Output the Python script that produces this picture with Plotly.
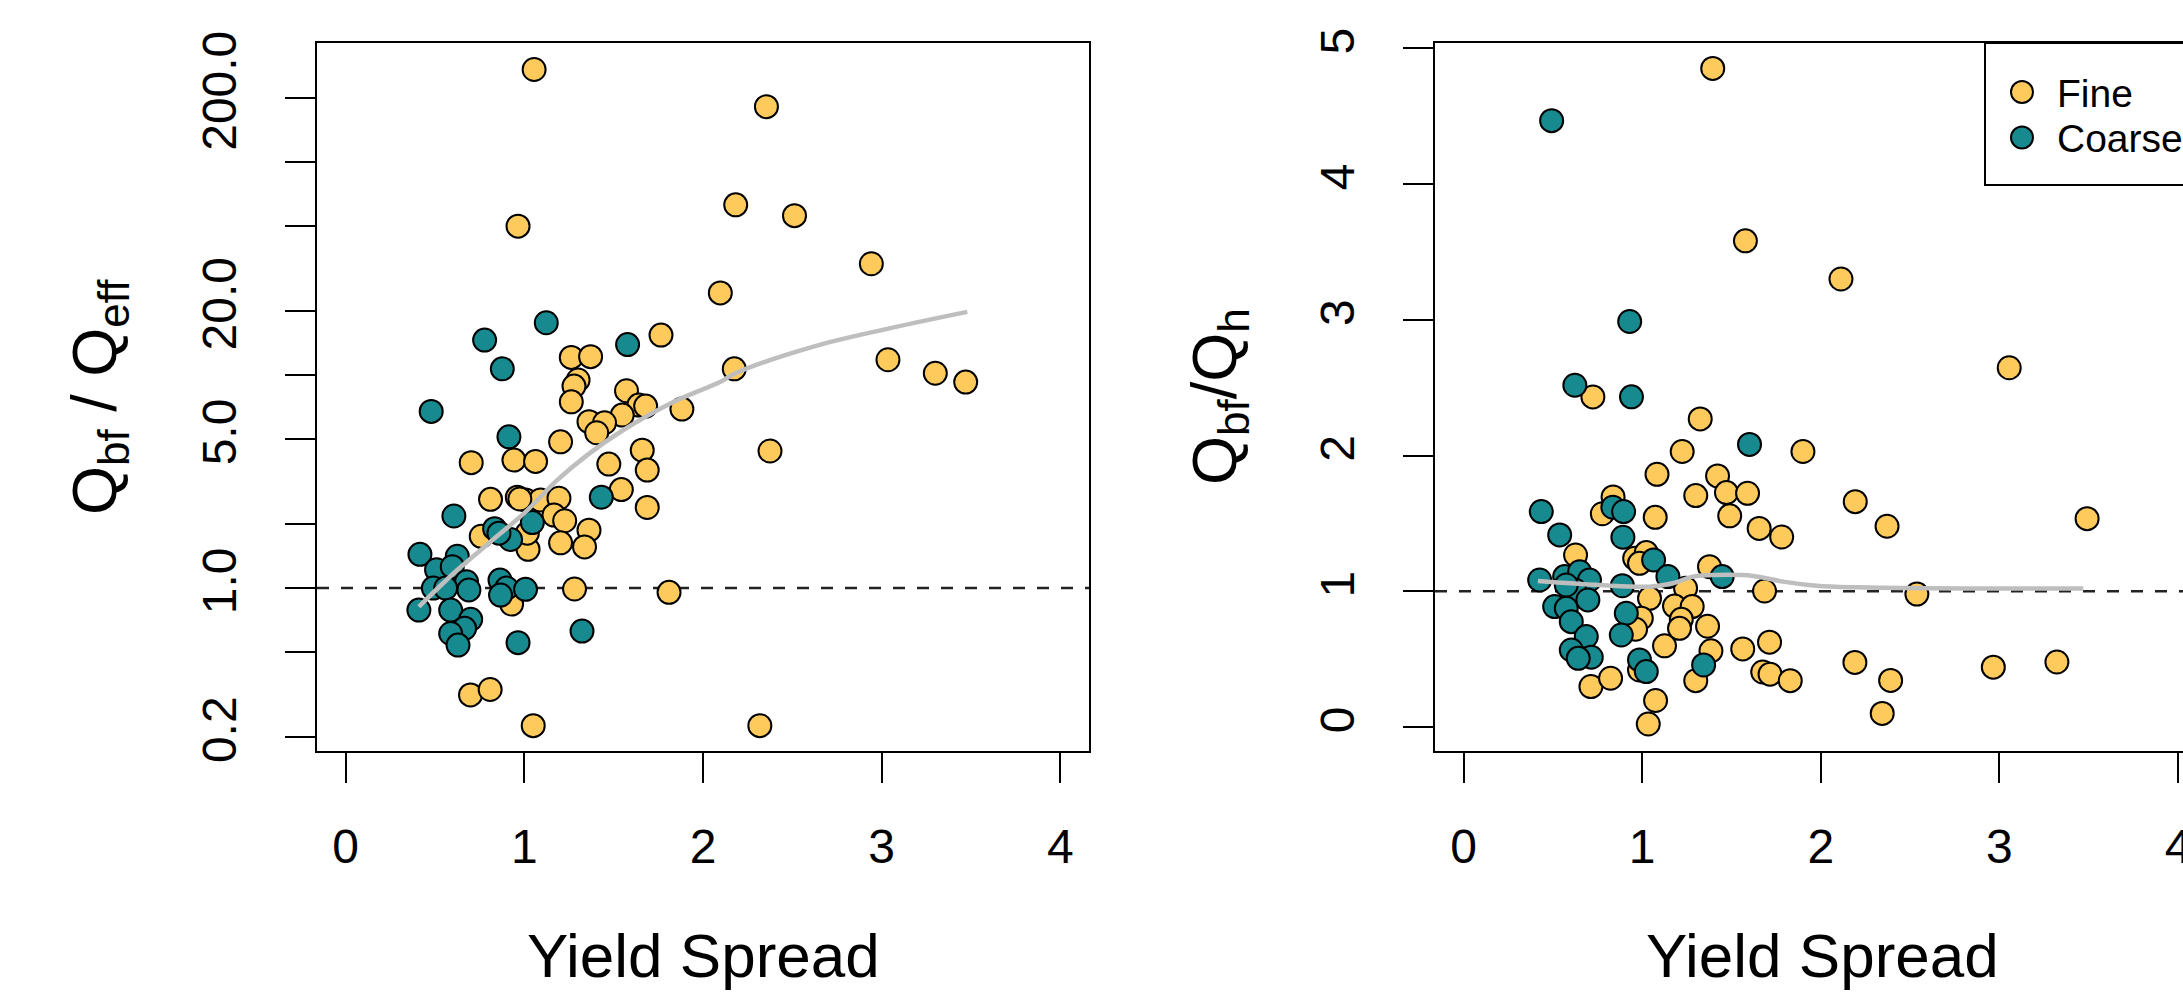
import plotly.graph_objects as go

# ---------------- data ----------------
# Left panel: Qbf/Qeff vs Yield Spread
fine_eff_x = [1.765, 1.263, 1.371, 1.301, 1.278, 1.263, 1.572, 1.641, 1.679, 1.548,
              1.882, 1.362, 1.449, 1.405, 1.203, 1.660, 1.688, 0.703, 0.942, 1.063,
              1.473, 1.543, 1.688, 0.811, 0.961, 1.007, 1.091, 1.194, 1.166, 1.226,
              1.362, 1.337, 1.203, 1.021, 0.759, 1.017, 1.281, 1.810, 0.929, 0.699,
              0.809, 0.975, 1.055, 2.355, 0.965, 2.183, 2.512, 2.942, 2.097, 2.175,
              3.035, 3.300, 3.470, 2.375, 1.050, 2.318]
fine_eff_y = [15.4, 12.1, 12.2, 9.48, 8.88, 7.49, 8.44, 7.23, 7.15, 6.49,
              6.92, 6.04, 5.97, 5.36, 4.86, 4.44, 3.58, 3.88, 3.99, 3.93,
              3.82, 2.90, 2.39, 2.61, 2.67, 2.59, 2.59, 2.64, 2.20, 2.07,
              1.87, 1.56, 1.63, 1.52, 1.75, 1.81, 0.99, 0.955, 0.841, 0.315,
              0.334, 2.62, 272.0, 182.0, 50.0, 63.0, 56.0, 33.3, 24.3, 10.7,
              11.8, 10.2, 9.27, 4.4, 0.226, 0.226]
coarse_eff_x = [1.123, 0.778, 0.877, 1.578, 0.479, 0.914, 1.431, 0.606, 1.045, 0.834,
                0.923, 0.858, 0.416, 0.625, 0.509, 0.597, 0.677, 0.491, 0.560, 0.690,
                0.864, 0.901, 0.867, 1.007, 0.410, 0.588, 0.700, 0.666, 0.588, 0.629,
                0.965, 1.323]
coarse_eff_y = [17.6, 14.6, 10.7, 13.9, 6.75, 5.13, 2.67, 2.18, 2.03, 1.90,
                1.69, 1.81, 1.44, 1.41, 1.22, 1.26, 1.07, 1.00, 1.00, 0.98,
                1.09, 1.00, 0.927, 0.986, 0.788, 0.788, 0.713, 0.647, 0.612, 0.540,
                0.554, 0.628]
smooth_eff_x = [0.41, 0.625, 0.811, 0.998, 1.184, 1.352, 1.539, 1.837, 2.098, 2.182,
                2.618, 3.048, 3.479]
smooth_eff_y = [0.817, 1.215, 1.65, 2.24, 3.21, 4.21, 5.42, 7.49, 9.30, 10.2,
                13.6, 16.6, 19.8]

# Right panel: Qbf/Qh vs Yield Spread
fine_h_x = [1.395, 1.578, 2.113, 3.055, 0.724, 1.325, 1.224, 1.900, 1.083, 1.422,
            1.300, 1.472, 1.590, 2.193, 3.491, 2.371, 1.490, 1.073, 1.655, 1.781,
            0.837, 0.777, 1.685, 2.538, 2.191, 2.966, 3.322, 2.391, 2.344, 1.713,
            1.563, 1.675, 1.716, 1.829, 1.385, 1.366, 1.300, 1.125, 1.075, 1.034,
            0.713, 0.823, 0.985, 0.627, 0.958, 1.023, 0.985, 1.377, 1.243, 1.041,
            1.181, 1.280, 1.219, 1.209, 0.995, 0.963]
fine_h_y = [4.853, 3.582, 3.301, 2.647, 2.432, 2.27, 2.03, 2.03, 1.862, 1.85,
            1.705, 1.727, 1.722, 1.66, 1.535, 1.479, 1.556, 1.545, 1.463, 1.40,
            1.695, 1.571, 1.002, 0.979, 0.476, 0.441, 0.479, 0.343, 0.100, 0.625,
            0.575, 0.405, 0.389, 0.341, 0.561, 0.742, 0.341, 0.598, 0.195, 0.022,
            0.298, 0.359, 0.42, 1.267, 1.243, 1.285, 1.206, 1.181, 1.022, 0.948,
            0.891, 0.887, 0.793, 0.727, 0.801, 0.720]
coarse_h_x = [0.493, 0.930, 0.623, 0.940, 1.601, 0.435, 0.538, 0.836, 0.896, 0.892,
              1.064, 1.144, 1.448, 0.426, 0.566, 0.650, 0.705, 0.622, 0.696, 0.510,
              0.575, 0.603, 0.687, 0.603, 0.715, 0.642, 0.889, 0.911, 0.883, 0.985,
              1.023, 1.344, 0.575]
coarse_h_y = [4.468, 2.988, 2.518, 2.433, 2.082, 1.587, 1.415, 1.619, 1.587, 1.398,
              1.231, 1.108, 1.108, 1.083, 1.108, 1.144, 1.083, 1.010, 0.936, 0.887,
              0.874, 0.776, 0.666, 0.567, 0.514, 0.506, 1.041, 0.838, 0.678, 0.494,
              0.408, 0.457, 1.046]
smooth_h_x = [0.416, 0.761, 1.041, 1.172, 1.284, 1.415, 1.620, 1.788, 1.975, 2.217,
              2.8, 3.47]
smooth_h_y = [1.076, 1.046, 1.034, 1.059, 1.108, 1.12, 1.113, 1.071, 1.041, 1.029,
              1.02, 1.02]

x_ticks = [0, 1, 2, 3, 4]
eff_major_ticks = [0.2, 1, 5, 20, 200]
eff_major_text = ["0.2", "1.0", "5.0", "20.0", "200.0"]
eff_minor_ticks = [0.5, 2, 10, 50, 100]
h_ticks = [0, 1, 2, 3, 4, 5]
legend_names = ["Fine", "Coarse"]

FINE = "#FFCA5C"
COARSE = "#178A90"
FONT = "Liberation Sans, Arial, Helvetica, sans-serif"

XR1 = [-0.16, 4.16]
XR2 = [-0.16, 4.028]

W, H = 2183, 998
MS = 23

fig = go.Figure()

# reference lines (ratio = 1)
fig.add_trace(go.Scatter(x=XR1, y=[1, 1], mode="lines", xaxis="x", yaxis="y",
                         line=dict(color="#222", width=2.5, dash="12px,12px"),
                         showlegend=False, hoverinfo="skip"))
fig.add_trace(go.Scatter(x=[XR2[0], 4.16], y=[1, 1], mode="lines", xaxis="x2", yaxis="y2",
                         line=dict(color="#222", width=2.5, dash="12px,12px"),
                         showlegend=False, hoverinfo="skip"))

mk = lambda c: dict(size=MS, color=c, line=dict(color="black", width=2))

# left panel
fig.add_trace(go.Scatter(x=fine_eff_x, y=fine_eff_y, mode="markers", name="Fine",
                         marker=mk(FINE), xaxis="x", yaxis="y", showlegend=False))
fig.add_trace(go.Scatter(x=coarse_eff_x, y=coarse_eff_y, mode="markers", name="Coarse",
                         marker=mk(COARSE), xaxis="x", yaxis="y", showlegend=False))
fig.add_trace(go.Scatter(x=smooth_eff_x, y=smooth_eff_y, mode="lines", line_shape="spline",
                         line=dict(color="#BEBEBE", width=4.5), xaxis="x", yaxis="y",
                         showlegend=False, hoverinfo="skip"))

# right panel
fig.add_trace(go.Scatter(x=fine_h_x, y=fine_h_y, mode="markers", name="Fine",
                         marker=mk(FINE), xaxis="x2", yaxis="y2", showlegend=False))
fig.add_trace(go.Scatter(x=coarse_h_x, y=coarse_h_y, mode="markers", name="Coarse",
                         marker=mk(COARSE), xaxis="x2", yaxis="y2", showlegend=False))
fig.add_trace(go.Scatter(x=smooth_h_x, y=smooth_h_y, mode="lines", line_shape="spline",
                         line=dict(color="#BEBEBE", width=4.5), xaxis="x2", yaxis="y2",
                         showlegend=False, hoverinfo="skip"))

ydom = [1 - 751 / H, 1 - 43 / H]
common = dict(showline=True, linecolor="black", linewidth=2, ticks="outside", ticklen=30,
              tickwidth=2, tickcolor="black", showgrid=False, zeroline=False,
              tickfont=dict(family=FONT, size=48, color="black"), automargin=False,
              ticklabeloverflow="allow")

# legend box (R-style, clipped at the right edge like the reference)
LX0, LY0, LY1 = 1985, 43, 185
shapes = [dict(type="rect", xref="paper", yref="paper", x0=LX0 / W, x1=1.05,
               y0=1 - LY1 / H, y1=1 - LY0 / H, line=dict(color="black", width=2),
               fillcolor="white", layer="above")]
annotations = []
for i, (name, col) in enumerate(zip(legend_names, [FINE, COARSE])):
    cy = 92 + 45.5 * i
    shapes.append(dict(type="circle", xref="paper", yref="paper",
                       xsizemode="pixel", ysizemode="pixel",
                       xanchor=2022 / W, yanchor=1 - cy / H,
                       x0=-11, x1=11, y0=-11, y1=11,
                       fillcolor=col, line=dict(color="black", width=2), layer="above"))
    annotations.append(dict(text=name, x=2055 / W, y=1 - (cy + 1) / H, xref="paper",
                            yref="paper", xanchor="left", yanchor="middle",
                            showarrow=False, font=dict(family=FONT, size=39)))

annotations += [
    dict(text="Yield Spread", x=703 / W, y=1 - 955 / H, xref="paper", yref="paper",
         xanchor="center", yanchor="middle", showarrow=False,
         font=dict(family=FONT, size=62)),
    dict(text="Yield Spread", x=1822 / W, y=1 - 955 / H, xref="paper", yref="paper",
         xanchor="center", yanchor="middle", showarrow=False,
         font=dict(family=FONT, size=62)),
    dict(text="Q<sub>bf</sub> / Q<sub>eff</sub>", x=98 / W, y=1 - 397 / H,
         xref="paper", yref="paper", xanchor="center", yanchor="middle",
         textangle=-90, showarrow=False, font=dict(family=FONT, size=63)),
    dict(text="Q<sub>bf</sub>/Q<sub>h</sub>", x=1218 / W, y=1 - 397 / H,
         xref="paper", yref="paper", xanchor="center", yanchor="middle",
         textangle=-90, showarrow=False, font=dict(family=FONT, size=63)),
]

minor_eff = dict(tickvals=eff_minor_ticks, ticks="outside", ticklen=30, tickwidth=2,
                 tickcolor="black", showgrid=False)

fig.update_layout(
    width=W, height=H,
    margin=dict(l=0, r=0, t=0, b=0, autoexpand=False),
    paper_bgcolor="white", plot_bgcolor="white",
    font=dict(family=FONT, color="black"),
    showlegend=False,
    xaxis=dict(domain=[317 / W, 1089 / W], range=XR1, tickvals=x_ticks, mirror=True,
               anchor="y", ticklabelstandoff=22, **common),
    yaxis=dict(domain=ydom, type="log", range=[-0.765, 2.559], tickvals=eff_major_ticks,
               ticktext=eff_major_text, tickangle=-90, mirror=True, anchor="x",
               ticklabelstandoff=30, minor=minor_eff, **common),
    xaxis2=dict(domain=[1435 / W, 1.0], range=XR2, tickvals=x_ticks, mirror=True,
                anchor="y2", ticklabelstandoff=22, **common),
    yaxis2=dict(domain=ydom, range=[-0.177, 5.04], tickvals=h_ticks, tickangle=-90,
                mirror=False, anchor="x2", ticklabelstandoff=30, **common),
    shapes=shapes,
    annotations=annotations,
)

fig.write_html("out.html", config={"displayModeBar": False},
               post_script="document.body.style.margin='0';document.body.style.overflow='hidden';")
